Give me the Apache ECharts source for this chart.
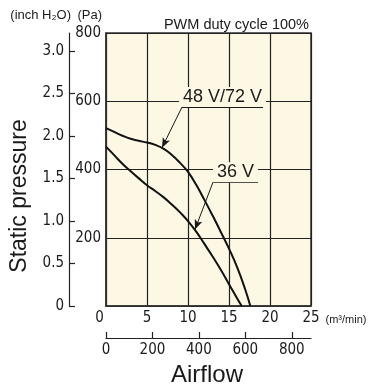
<!DOCTYPE html>
<html>
<head>
<meta charset="utf-8">
<script src="https://cdn.jsdelivr.net/npm/echarts@6/dist/echarts.min.js"></script>
<style>
html,body{margin:0;padding:0;background:#fff;}
#c{width:377px;height:386px;}
</style>
</head>
<body>
<div id="c"></div>
<script>
// Airflow (m³/min) vs static pressure (Pa)
const airflow48 = [0, 1, 2, 3, 4, 5, 6, 7, 8, 9, 10, 11, 12, 13, 14, 15, 16, 17, 17.6];
const pressure48 = [521, 510, 499, 490, 484, 479, 472, 461, 443, 420, 393, 355, 311, 265, 217, 168, 113, 47, 0];
const airflow36 = [0, 1, 2, 3, 4, 5, 6, 7, 8, 9, 10, 11, 12, 13, 14, 15, 16, 16.55];
const pressure36 = [467, 442, 417, 395, 374, 354, 337, 319, 298, 275, 249, 218, 182, 145, 106, 64, 22, 0];

const seriesNames = ['48 V/72 V', '36 V'];
// annotation anchor points (data units: m³/min, Pa)
const label48Underline = [[9.27, 583], [19.15, 583]];
const label48Arrow = [[9.27, 583], [6.83, 464]];
const label36Underline = [[13.05, 363], [18.54, 363]];
const label36Arrow = [[13.05, 363], [10.85, 224]];

const xTicksM3 = [0, 5, 10, 15, 20, 25];
const cfmTicks = [0, 200, 400, 600, 800];
const paTicks = [0, 200, 400, 600, 800];
const inchTicks = [0, 0.5, 1.0, 1.5, 2.0, 2.5, 3.0];

const M3_TO_CFM = 35.3147;
const PA_PER_INCH = 249.0889;

const numFont = "'DejaVu Sans Condensed', 'Liberation Sans', sans-serif";
const txtFont = "'Liberation Sans', Arial, sans-serif";
const numSize = 15;
const cream = '#fcf8e4';
const ink = '#1a1a1a';

function pairs(xs, ys) { return xs.map((x, i) => [x, ys[i]]); }

function annotation(underline, arrow, text) {
  return {
    silent: true,
    animation: false,
    symbol: ['none', 'none'],
    lineStyle: { color: ink, width: 1, type: 'solid' },
    data: [
      [
        { coord: underline[0], symbol: 'none',
          label: { show: true, formatter: text, position: 'insideMiddleTop', distance: 0,
                   color: ink, fontFamily: txtFont, fontSize: 18, backgroundColor: cream,
                   padding: [1, 4, 1, 4] } },
        { coord: underline[1], symbol: 'none' }
      ],
      [
        { coord: arrow[0], symbol: 'none', label: { show: false } },
        { coord: arrow[1], symbol: 'arrow', symbolSize: [6, 10], label: { show: false } }
      ]
    ]
  };
}

const chart = echarts.init(document.getElementById('c'), null, { renderer: 'canvas' });
chart.setOption({
  animation: false,
  title: {
    text: 'PWM duty cycle 100%',
    right: 63, top: 12,
    textStyle: { fontFamily: txtFont, fontSize: 14.5, fontWeight: 'normal', color: ink }
  },
  grid: {
    left: 106, top: 33, right: 66, bottom: 80,
    outerBoundsMode: 'none', containLabel: false,
    show: true, backgroundColor: cream, borderColor: '#333', borderWidth: 1.5
  },
  xAxis: [
    {
      type: 'value', min: 0, max: 25, interval: 5,
      axisLine: { show: true, lineStyle: { color: '#333', width: 1.5 } },
      axisTick: { show: false },
      splitLine: { show: true, lineStyle: { color: '#222', width: 1.2 } },
      axisLabel: {
        customValues: xTicksM3,
        margin: 5,
        fontFamily: numFont, fontSize: numSize, color: ink,
        formatter: v => v === 0 ? '{z|0}' : String(v),
        rich: { z: { fontFamily: numFont, fontSize: numSize, color: ink, padding: [0, 13, 0, 0] } }
      },
      name: '(m³/min)', nameLocation: 'end', nameGap: 12,
      nameTextStyle: { fontFamily: txtFont, fontSize: 11, color: ink, verticalAlign: 'top', padding: [8, 0, 0, 0] }
    },
    {
      type: 'value', min: 0, max: 25 * M3_TO_CFM, position: 'bottom', offset: 32,
      axisLine: { show: true, onZero: false, lineStyle: { color: '#222', width: 1.2 } },
      axisTick: { show: true, inside: true, length: 6, customValues: cfmTicks, lineStyle: { color: '#222', width: 1.2 } },
      splitLine: { show: false },
      axisLabel: { customValues: cfmTicks, margin: 5, fontFamily: numFont, fontSize: numSize, color: ink },
      name: 'Airflow', nameLocation: 'middle', nameGap: 19,
      nameTextStyle: { fontFamily: txtFont, fontSize: 24, color: ink, verticalAlign: 'top', padding: [0, 3, 0, 0] }
    }
  ],
  yAxis: [
    {
      type: 'value', min: 0, max: 800, interval: 200, position: 'left',
      axisLine: { show: true, lineStyle: { color: '#333', width: 1.5 } },
      axisTick: { show: false },
      splitLine: { show: true, lineStyle: { color: '#222', width: 1.2 } },
      axisLabel: { customValues: paTicks.filter(v => v > 0), margin: 5, fontFamily: numFont, fontSize: numSize, color: ink },
      name: '(Pa)', nameLocation: 'end', nameGap: 18,
      nameTextStyle: { fontFamily: txtFont, fontSize: 13, color: ink, align: 'right', verticalAlign: 'middle', padding: [0, 4, 0, 0] }
    },
    {
      type: 'value', min: 0, max: 800 / PA_PER_INCH, position: 'left', offset: 37,
      axisLine: { show: true, onZero: false, lineStyle: { color: '#222', width: 1.2 } },
      axisTick: { show: true, inside: true, length: 6, customValues: inchTicks, lineStyle: { color: '#222', width: 1.2 } },
      splitLine: { show: false },
      axisLabel: {
        customValues: inchTicks, margin: 5, fontFamily: numFont, fontSize: numSize, color: ink,
        formatter: v => v === 0 ? '0' : v.toFixed(1)
      },
      name: '(inch H₂O)', nameLocation: 'end', nameGap: 18,
      nameTextStyle: { fontFamily: txtFont, fontSize: 13, color: ink, align: 'right', verticalAlign: 'middle', padding: [0, -2, 0, 0] }
    }
  ],
  graphic: [
    {
      type: 'text', x: 20, y: 196, rotation: Math.PI / 2,
      style: { text: 'Static pressure', font: "23px 'Liberation Sans', Arial, sans-serif", fill: ink,
               textAlign: 'center', textVerticalAlign: 'middle' }
    }
  ],
  series: [
    {
      name: seriesNames[0], type: 'line', smooth: 0.5, showSymbol: false, silent: true,
      xAxisIndex: 0, yAxisIndex: 0,
      lineStyle: { color: '#111', width: 2 },
      data: pairs(airflow48, pressure48),
      markLine: annotation(label48Underline, label48Arrow, seriesNames[0])
    },
    {
      name: seriesNames[1], type: 'line', smooth: 0.5, showSymbol: false, silent: true,
      xAxisIndex: 0, yAxisIndex: 0,
      lineStyle: { color: '#111', width: 2 },
      data: pairs(airflow36, pressure36),
      markLine: annotation(label36Underline, label36Arrow, seriesNames[1])
    }
  ]
});
</script>
</body>
</html>
